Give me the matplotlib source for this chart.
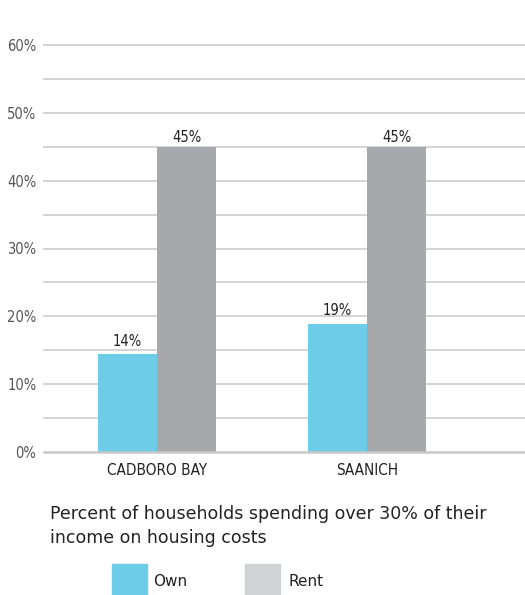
import matplotlib
matplotlib.use("Agg")
from matplotlib import pyplot as plt
from matplotlib.patches import Rectangle
from matplotlib import font_manager
import numpy as np

categories = ['CADBORO BAY', 'SAANICH']
own = [14.4, 18.9]
rent = [45, 45]
own_labels = ['14%', '19%']
rent_labels = ['45%', '45%']
yticks = [0, 10, 20, 30, 40, 50, 60]
caption = 'Percent of households spending over 30% of their\nincome on housing costs'

names = {f.name for f in font_manager.fontManager.ttflist}
if 'Liberation Sans Narrow' in names:
    narrow = font_manager.FontProperties(family='Liberation Sans Narrow')
else:
    narrow = font_manager.FontProperties(family='DejaVu Sans', stretch='condensed')

def nfont(size):
    fp = narrow.copy()
    fp.set_size(size)
    return fp

c_own = '#6dcde8'
c_rent = '#a7a8ab'
c_rent_leg = '#d1d2d4'

fig = plt.figure(figsize=(5.25, 5.95), dpi=100)
ax = fig.add_axes([44/525, 1-452/595, 1-44/525, (452-45)/595])

x = np.arange(len(categories))
w = 0.283
b1 = ax.bar(x - w/2, own, w, color=c_own, zorder=3)
b2 = ax.bar(x + w/2, rent, w, color=c_rent, zorder=3)

for bar, lab in zip(b1, own_labels):
    ax.text(bar.get_x() + bar.get_width()/2, bar.get_height() + 0.8, lab,
            ha='center', va='bottom', fontproperties=nfont(10.5), color='#222222')
for bar, lab in zip(b2, rent_labels):
    ax.text(bar.get_x() + bar.get_width()/2, bar.get_height() + 0.3, lab,
            ha='center', va='bottom', fontproperties=nfont(10.5), color='#222222')

ax.set_xlim(-0.538, 1.752)
ax.set_ylim(0, 60)
for v in np.arange(5, 61, 5):
    ax.axhline(v, color='#d4d4d4', lw=1.4, zorder=1, clip_on=False)
ax.axhline(0, color='#c8c8c8', lw=1.8, zorder=4, clip_on=False)

ax.set_yticks(yticks)
ax.set_yticklabels([f'{v}%' for v in yticks], fontproperties=nfont(10.5), color='#555555')
ax.set_xticks(x)
ax.set_xticklabels(categories, fontproperties=nfont(11), color='#222222')
ax.tick_params(axis='y', length=0, pad=5.5)
ax.tick_params(axis='x', length=0, pad=8)
for s in ax.spines.values():
    s.set_visible(False)

fig.text(50/525, 1-505/595, caption, ha='left', va='top', fontsize=12.5,
         color='#222222', linespacing=1.4)

# legend
fig.patches.append(Rectangle((112/525, 0), 35/525, 31/595, transform=fig.transFigure,
                             color=c_own, figure=fig))
fig.text(153/525, 1-581/595, 'Own', ha='left', va='center', fontsize=11, color='#222222')
fig.patches.append(Rectangle((245/525, 0), 35/525, 31/595, transform=fig.transFigure,
                             color=c_rent_leg, figure=fig))
fig.text(288/525, 1-581/595, 'Rent', ha='left', va='center', fontsize=11, color='#222222')

fig.savefig('out.png', dpi=100)
